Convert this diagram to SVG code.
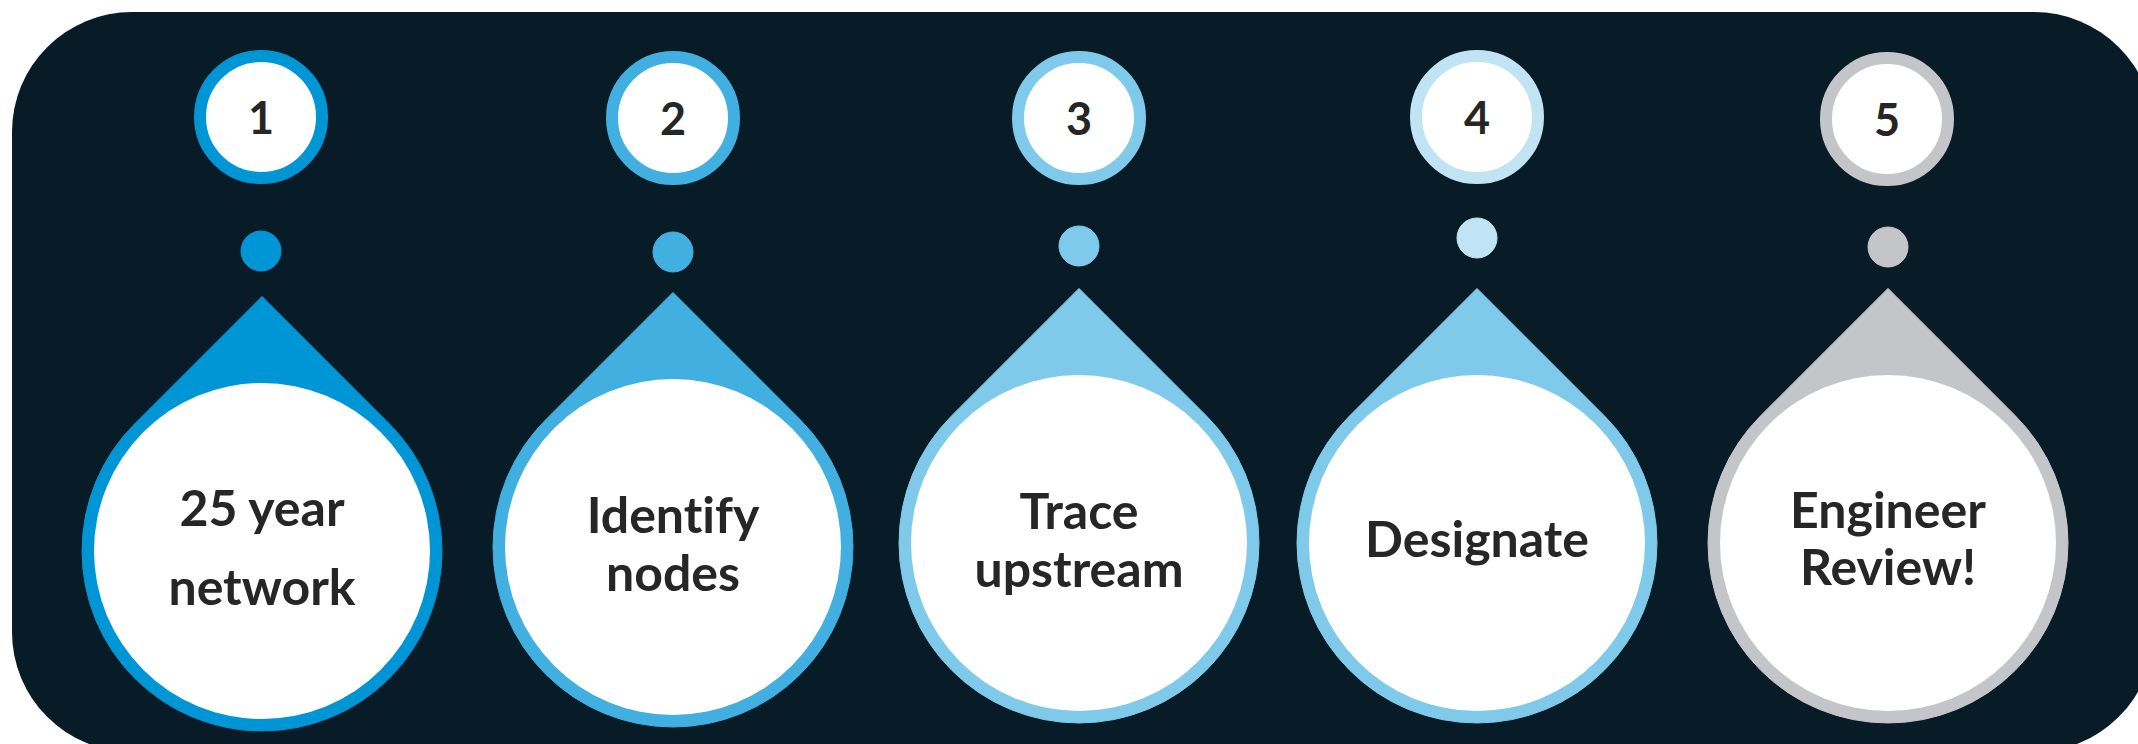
<svg xmlns="http://www.w3.org/2000/svg" xmlns:xlink="http://www.w3.org/1999/xlink" width="2138" height="744" viewBox="0 0 2138 744">
  <style>
    .panel { fill: #071c27; }
    .ring { fill: #ffffff; stroke-width: 12; }
    .hole { fill: #ffffff; }
    text { font-family: Lato, "Open Sans", sans-serif; font-weight: 700; fill: #262626; text-anchor: middle; font-variant-ligatures: none; font-feature-settings: "liga" 0, "clig" 0; }
    .num { font-size: 45px; }
    .label { font-size: 50px; }
    .c1 { fill: #0095d5; stroke: #0095d5; }
    .c2 { fill: #41afe0; stroke: #41afe0; }
    .c3 { fill: #7fcaea; stroke: #7fcaea; }
    .c4 { fill: #c1e4f4; stroke: #c1e4f4; }
    .c5 { fill: #c4c5c9; stroke: #c4c5c9; }
  </style>
  <defs>
    <!-- teardrop: circle r=180 centred on the origin, point straight up -->
    <path id="drop" d="M0,-254.56 L127.28,-127.28 A180,180 0 1 1 -127.28,-127.28 Z"/>
  </defs>

  <rect class="panel" x="12" y="12" width="2142" height="740" rx="120" ry="120"/>

  <g id="connectors"/>

  <g id="step-1">
    <circle class="ring c1" cx="261" cy="117" r="61" style="fill:#fff"/>
    <text class="num" x="261" y="134">1</text>
    <circle class="c1" cx="261" cy="251" r="20"/>
    <use xlink:href="#drop" href="#drop" class="c1" x="262" y="551"/>
    <circle class="hole" cx="262" cy="551" r="168"/>
    <text class="label" x="262" y="526">25 year</text>
    <text class="label" x="262" y="605">network</text>
  </g>

  <g id="step-2">
    <circle class="ring c2" cx="673" cy="118" r="61" style="fill:#fff"/>
    <text class="num" x="673" y="135">2</text>
    <circle class="c2" cx="673" cy="252" r="20"/>
    <use xlink:href="#drop" href="#drop" class="c2" x="673" y="547"/>
    <circle class="hole" cx="673" cy="547" r="168"/>
    <text class="label" x="673" y="533">Identify</text>
    <text class="label" x="673" y="591">nodes</text>
  </g>

  <g id="step-3">
    <circle class="ring c3" cx="1079" cy="118" r="61" style="fill:#fff"/>
    <text class="num" x="1079" y="135">3</text>
    <circle class="c3" cx="1079" cy="246" r="20"/>
    <use xlink:href="#drop" href="#drop" class="c3" x="1079" y="543"/>
    <circle class="hole" cx="1079" cy="543" r="168"/>
    <text class="label" x="1079" y="529">Trace</text>
    <text class="label" x="1079" y="587">upstream</text>
  </g>

  <g id="step-4">
    <circle class="ring c4" cx="1477" cy="117" r="61" style="fill:#fff"/>
    <text class="num" x="1477" y="134">4</text>
    <circle class="c4" cx="1477" cy="238" r="20"/>
    <use xlink:href="#drop" href="#drop" class="c3" x="1477" y="543"/>
    <circle class="hole" cx="1477" cy="543" r="168"/>
    <text class="label" x="1477" y="557">Designate</text>
  </g>

  <g id="step-5">
    <circle class="ring c5" cx="1887" cy="119" r="61" style="fill:#fff"/>
    <text class="num" x="1887" y="136">5</text>
    <circle class="c5" cx="1888" cy="247" r="20"/>
    <use xlink:href="#drop" href="#drop" class="c5" x="1888" y="543"/>
    <circle class="hole" cx="1888" cy="543" r="168"/>
    <text class="label" x="1888" y="528">Engineer</text>
    <text class="label" x="1888" y="585">Review!</text>
  </g>
</svg>
